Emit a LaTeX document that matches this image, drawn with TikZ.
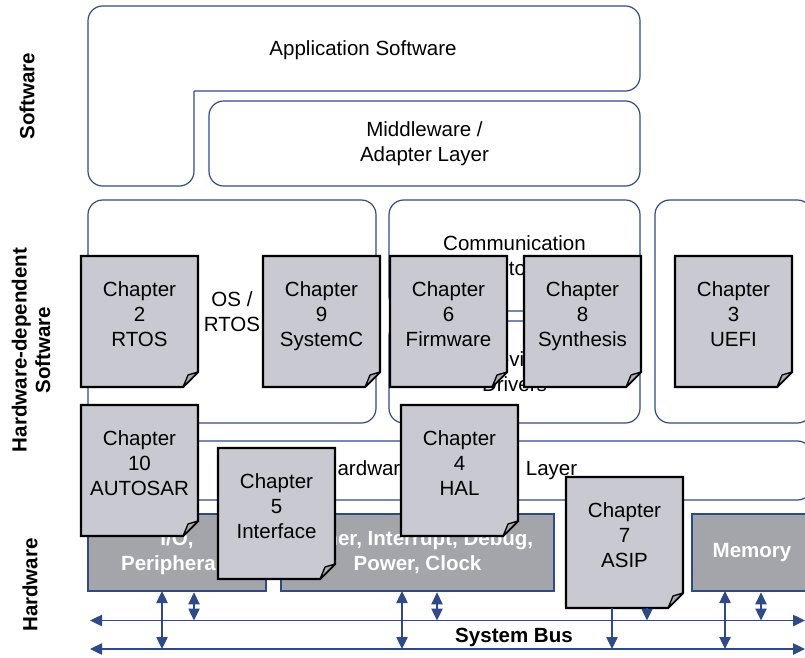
\documentclass[tikz,border=0pt]{standalone}
\usepackage{fontspec}
\setmainfont{Liberation Sans}
\usetikzlibrary{arrows.meta,calc}
\definecolor{navy}{RGB}{47,74,135}
\definecolor{hwgray}{RGB}{163,165,171}
\definecolor{chapgray}{RGB}{201,202,209}
\definecolor{flapgray}{RGB}{172,173,178}
\newcommand\pxbox[7]{\node[#6, minimum width={(#4-#2)*0.75pt}, minimum height={(#5-#3)*0.75pt}] (#1) at ({(#2+#4)/2},{(#3+#5)/2}) {#7};}
\newcommand\chapnote[4]{%
  \node[chapbox, anchor=north west] (#1) at (#2,#3) {};
  \draw[chapline, fill=chapgray] (#1.north west) -- (#1.north east) -- ($(#1.south east)+(0,-15)$) -- ($(#1.south east)+(-15,0)$) -- (#1.south west) -- cycle;
  \draw[chapline, line width=1pt, fill=flapgray, line join=round] ($(#1.south east)+(0,-15)$) -- ($(#1.south east)+(-10,-12)$) .. controls ($(#1.south east)+(-12,-7)$) .. ($(#1.south east)+(-15,0)$) -- cycle;
  \node[chaptext, anchor=north] at ($(#1.north)+(0,26)$) {#4};
}
\begin{document}
\begin{tikzpicture}[x=0.75pt,y=-0.75pt,
  >={Triangle[length=9pt,width=8.5pt]},
  every node/.style={inner sep=0pt, outer sep=0pt},
  swbox/.style={draw=navy, line width=0.9pt, rounded corners=11pt, align=center, font=\fontsize{15.4}{18.75}\selectfont},
  hwbox/.style={draw=navy, line width=0.9pt, fill=hwgray, text=white, align=center, font=\fontsize{15.4}{18.75}\selectfont\bfseries},
  chapbox/.style={minimum width=87.75pt, minimum height=98.25pt},
  chapline/.style={draw=black, line width=1.6pt, line join=miter},
  chaptext/.style={align=center, font=\fontsize{15.4}{18.75}\selectfont},
  plain/.style={align=center, font=\fontsize{15.4}{18.75}\selectfont},
  side/.style={rotate=90, align=center, font=\fontsize{15.4}{17.5}\selectfont\bfseries},
  bus/.style={draw=navy, line width=1pt}
]
\useasboundingbox (0,0) rectangle (805,657);
\clip (0,0) rectangle (805,657);

% side labels
\node[side] (lsw) at (27,96) {Software};
\node[side] (lhds) at (31,350) {Hardware-dependent\\Software};
\node[side] (lhw) at (30,585) {Hardware};

% application software (L-shape)
\draw[draw=navy, line width=0.9pt, rounded corners=11pt] (194,91) -- (194,186) -- (88,186) -- (88,6) -- (640,6) -- (640,91) -- (194,91);
\node[plain] (app) at (363,50) {Application Software};

\pxbox{mw}{209}{101}{640}{186}{swbox}{Middleware /\\Adapter Layer}
\pxbox{os}{88}{200}{376}{423}{swbox}{OS /\\RTOS}
\pxbox{comm}{389}{200}{640}{311}{swbox}{Communication\\Protocol}
\pxbox{drv}{389}{321}{640}{423}{swbox}{Device\\Drivers}
\pxbox{uefi}{655}{200}{812}{423}{swbox}{}
\pxbox{hal}{88}{441}{812}{500}{swbox}{Hardware Abstraction Layer}

\pxbox{io}{88}{514}{266}{591}{hwbox}{I/O,\\Peripherals}
\pxbox{tim}{281}{514}{554}{591}{hwbox}{Timer, Interrupt, Debug,\\Power, Clock}
\pxbox{mem}{692}{514}{812}{591}{hwbox}{Memory}

% system bus
\coordinate (busAL) at (90,620.5);
\coordinate (busAR) at (805,620.5);
\coordinate (busBL) at (90,649);
\coordinate (busBR) at (805,649);
\draw[bus, <->] (busAL) -- (busAR);
\draw[bus, <->] (busBL) -- (busBR);
\node[plain, font=\fontsize{15.4}{18.75}\selectfont\bfseries] (sysbus) at (514,637) {System Bus};

% chapters
\chapnote{c2}{81}{256}{Chapter\\2\\RTOS}
\chapnote{c9}{263}{256}{Chapter\\9\\SystemC}
\chapnote{c6}{390}{256}{Chapter\\6\\Firmware}
\chapnote{c8}{524}{256}{Chapter\\8\\Synthesis}
\chapnote{c3}{675}{256}{Chapter\\3\\UEFI}
\chapnote{c10}{81}{405}{Chapter\\10\\AUTOSAR}
\chapnote{c5}{218}{448}{Chapter\\5\\Interface}
\chapnote{c4}{401}{405}{Chapter\\4\\HAL}
\chapnote{c7}{566}{477}{Chapter\\7\\ASIP}

% vertical bus connectors
\coordinate (x1) at (162,0);
\coordinate (x2) at (194,0);
\coordinate (x3) at (402,0);
\coordinate (x4) at (437,0);
\coordinate (x5) at (612,0);
\coordinate (x6) at (647,0);
\coordinate (x7) at (725,0);
\coordinate (x8) at (761,0);
\draw[bus, <->] (io.south -| x1) -- (busBL -| x1);
\draw[bus, <->] ([yshift=-1pt]io.south -| x2) -- (busAL -| x2);
\draw[bus, <->] (tim.south -| x3) -- (busBL -| x3);
\draw[bus, <->] ([yshift=-1pt]tim.south -| x4) -- (busAL -| x4);
\draw[bus, ->] (c7.south -| x5) -- (busBL -| x5);
\draw[bus, ->] (c7.south -| x6) -- (busAL -| x6);
\draw[bus, <->] (mem.south -| x7) -- (busBL -| x7);
\draw[bus, <->] ([yshift=-1pt]mem.south -| x8) -- (busAL -| x8);
\end{tikzpicture}
\end{document}
